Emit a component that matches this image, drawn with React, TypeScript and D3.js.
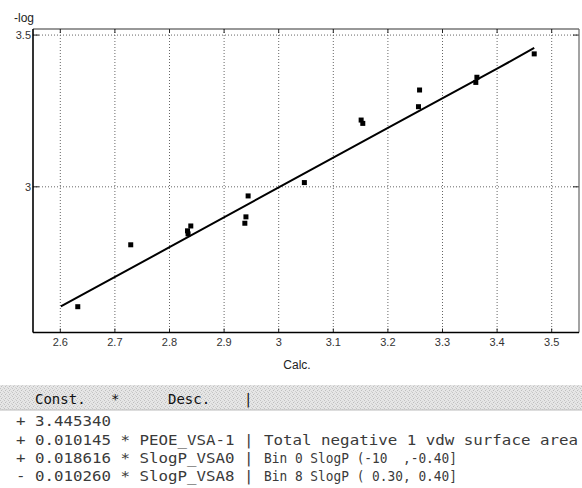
import * as d3 from "d3";

const calcValues = [2.632, 2.729, 2.833, 2.839, 2.834, 2.938, 2.94, 2.944, 3.047, 3.151, 3.154, 3.258, 3.256, 3.363, 3.361, 3.468];
const obsValues = [2.605, 2.809, 2.855, 2.871, 2.845, 2.88, 2.901, 2.97, 3.014, 3.22, 3.209, 3.319, 3.264, 3.361, 3.344, 3.438];

// fitted line
const fitCalc = [2.601, 2.8, 3.0, 3.2, 3.405, 3.468];
const fitObs = [2.606, 2.801, 2.998, 3.194, 3.394, 3.458];

const xTickValues = [2.6, 2.7, 2.8, 2.9, 3, 3.1, 3.2, 3.3, 3.4, 3.5];
const yTickValues = [3, 3.5];
const xAxisTitle = "Calc.";
const yAxisTitle = "-log";

// model equation table
const headerCols = ["Const.", "*", "Desc.", "|"];
const termSigns = ["+", "+", "+", "-"];
const termCoefs = ["3.445340", "0.010145", "0.018616", "0.010260"];
const termNames = ["", "PEOE_VSA-1", "SlogP_VSA0", "SlogP_VSA8"];
const termDescs = ["", "Total negative 1 vdw surface area", "Bin 0 SlogP (-10  ,-0.40]", "Bin 8 SlogP ( 0.30, 0.40]"];

const W = 582;
const H = 488;
const plot = { left: 33, right: 579, top: 29, bottom: 332.5 };
const charW = 9.5;
const mono = "'DejaVu Sans Mono', monospace";
const sans = "'Liberation Sans', Arial, sans-serif";

export default function App() {
  const x = d3.scaleLinear().domain([2.55, 3.55]).range([plot.left, plot.right]);
  const y = d3.scaleLinear().domain([2.52, 3.52]).range([plot.bottom, plot.top]);

  const line = d3
    .line<number>()
    .x((d) => x(fitCalc[d]))
    .y((d) => y(fitObs[d]));

  const headerX = [16 + 2 * charW, 16 + 10 * charW, 16 + 16 * charW, 16 + 24 * charW];
  const rowY = [426, 444.5, 463, 481];
  const descLen = [0, 314, 193, 193];

  return (
    <svg width={W} height={H} style={{ position: "absolute", left: 0, top: 0, background: "#fff" }}>
      <defs>
        <pattern id="grain" width="4" height="4" patternUnits="userSpaceOnUse">
          <rect width="4" height="4" fill="#e6e6e6" />
          <rect x="0" y="0" width="1" height="1" fill="#c4c4c4" />
          <rect x="2" y="1" width="1" height="1" fill="#d0d0d0" />
          <rect x="1" y="2" width="1" height="1" fill="#bdbdbd" />
          <rect x="3" y="3" width="1" height="1" fill="#cfcfcf" />
        </pattern>
      </defs>

      {/* grid */}
      {xTickValues.map((t) => (
        <line key={"gx" + t} x1={x(t)} x2={x(t)} y1={plot.top} y2={plot.bottom} stroke="#666" strokeDasharray="1,2" />
      ))}
      {yTickValues.map((t) => (
        <line key={"gy" + t} x1={plot.left} x2={plot.right} y1={y(t)} y2={y(t)} stroke="#666" strokeDasharray="1,2" />
      ))}

      {/* ticks */}
      {xTickValues.map((t) => (
        <g key={"tx" + t}>
          <line x1={x(t)} x2={x(t)} y1={plot.top} y2={plot.top + 4} stroke="#222" />
          <line x1={x(t)} x2={x(t)} y1={plot.bottom} y2={plot.bottom - 4} stroke="#222" />
        </g>
      ))}
      {yTickValues.map((t) => (
        <g key={"ty" + t}>
          <line x1={plot.left} x2={plot.left + 6} y1={y(t)} y2={y(t)} stroke="#222" />
          <line x1={plot.right} x2={plot.right - 6} y1={y(t)} y2={y(t)} stroke="#222" />
        </g>
      ))}

      {/* frame */}
      <line x1={plot.left} x2={plot.right} y1={plot.top} y2={plot.top} stroke="#333" strokeWidth={1.2} />
      <line x1={plot.right} x2={plot.right} y1={plot.top} y2={plot.bottom} stroke="#666" strokeWidth={1.2} />
      <line x1={plot.left} x2={plot.left} y1={plot.top} y2={plot.bottom} stroke="#000" strokeWidth={1.6} />
      <line x1={plot.left} x2={plot.right} y1={plot.bottom} y2={plot.bottom} stroke="#000" strokeWidth={1.6} />

      {/* fit line */}
      <path d={line(d3.range(fitCalc.length)) || ""} fill="none" stroke="#000" strokeWidth={2} />

      {/* points */}
      {calcValues.map((c, i) => (
        <rect key={"p" + i} x={x(c) - 2.5} y={y(obsValues[i]) - 2.5} width={5} height={5} fill="#000" />
      ))}

      {/* axis labels */}
      {xTickValues.map((t) => (
        <text key={"lx" + t} x={x(t)} y={346} textAnchor="middle" fontFamily={sans} fontSize={11} fill="#333">
          {String(t)}
        </text>
      ))}
      {yTickValues.map((t) => (
        <text key={"ly" + t} x={31} y={y(t) + 4} textAnchor="end" fontFamily={sans} fontSize={11} fill="#333">
          {String(t)}
        </text>
      ))}
      <text x={14} y={22} fontFamily={sans} fontSize={12} fill="#222">
        {yAxisTitle}
      </text>
      <text x={297} y={369} textAnchor="middle" fontFamily={sans} fontSize={12} fill="#222">
        {xAxisTitle}
      </text>

      {/* equation table */}
      <rect x={0} y={385} width={W} height={25} fill="url(#grain)" />
      <line x1={0} x2={W} y1={410} y2={410} stroke="#bbb" />
      {headerCols.map((h, i) => (
        <text key={"h" + i} x={headerX[i]} y={404} fontFamily={mono} fontSize={14} fill="#111">
          {h}
        </text>
      ))}
      {termCoefs.map((c, i) => {
        const left = `${termSigns[i]} ${c}` + (termNames[i] ? ` * ${termNames[i]} |` : "");
        return (
          <g key={"r" + i} fontFamily={mono} fontSize={13.5} fill="#3a3a3a">
            <text
              x={16}
              y={rowY[i]}
              textLength={left.length * charW}
              lengthAdjust="spacingAndGlyphs"
              xmlSpace="preserve"
              style={{ whiteSpace: "pre" }}
            >
              {left}
            </text>
            {termDescs[i] && (
              <text
                x={264}
                y={rowY[i]}
                textLength={descLen[i]}
                lengthAdjust="spacingAndGlyphs"
                xmlSpace="preserve"
                style={{ whiteSpace: "pre" }}
              >
                {termDescs[i]}
              </text>
            )}
          </g>
        );
      })}
    </svg>
  );
}
